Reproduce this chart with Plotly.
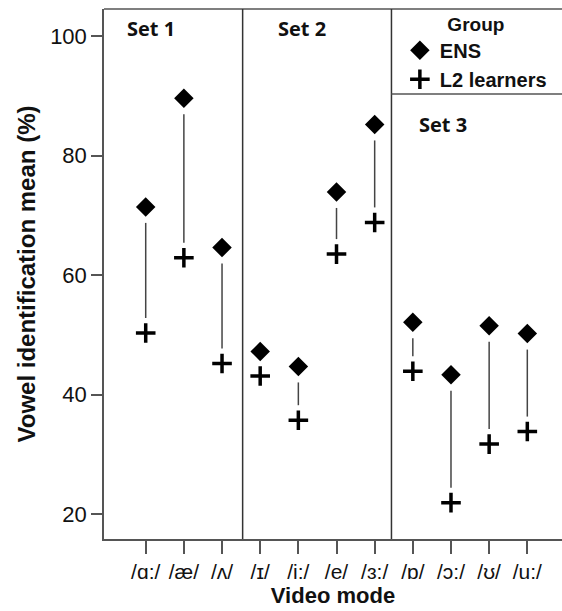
import plotly.graph_objects as go

# ---- data ----
vowels = ["/ɑ:/", "/æ/", "/ʌ/", "/ɪ/", "/i:/", "/e/", "/ɜ:/", "/ɒ/", "/ɔ:/", "/ʊ/", "/u:/"]
ens = [71.4, 89.6, 64.6, 47.2, 44.7, 73.9, 85.2, 52.1, 43.3, 51.5, 50.2]
l2 = [50.3, 62.9, 45.2, 43.1, 35.7, 63.5, 68.8, 43.9, 21.9, 31.7, 33.8]
groups = ["ENS", "L2 learners"]
set_labels = ["Set 1", "Set 2", "Set 3"]
y_ticks = [20, 40, 60, 80, 100]

# ---- layout constants ----
W, H = 562, 611
ML, MR, MT, MB = 104, 0, 9, 72
PLOT_H = H - MT - MB
XR = [-1.093, 10.909]
YR = [15.82, 104.52]
upp = (YR[1] - YR[0]) / PLOT_H  # data units per pixel

xs = list(range(len(vowels)))

# drop lines between the two group means, with gaps around markers
lx, ly = [], []
for i in xs:
    top = ens[i] - 16 * upp
    bot = l2[i] + 15 * upp
    if top > bot:
        lx += [i, i, None]
        ly += [top, bot, None]

fig = go.Figure()
fig.add_trace(go.Scatter(x=lx, y=ly, mode="lines", line=dict(color="#444444", width=1.5),
                         showlegend=False, hoverinfo="skip"))
fig.add_trace(go.Scatter(x=xs, y=ens, mode="markers", name=groups[0],
                         marker=dict(symbol="diamond", size=15, color="black", line=dict(width=0))))
fig.add_trace(go.Scatter(x=xs, y=l2, mode="markers", name=groups[1],
                         marker=dict(symbol="cross-thin", size=14, color="black",
                                     line=dict(width=3.5, color="black"))))

axis_col = "#555555"
shapes = [
    # top frame
    dict(type="line", xref="paper", yref="paper", x0=0, x1=1, y0=1, y1=1,
         line=dict(color=axis_col, width=1.5)),
    # set dividers
    dict(type="line", xref="x", yref="paper", x0=2.54, x1=2.54, y0=0, y1=1,
         line=dict(color="#333333", width=1.5)),
    dict(type="line", xref="x", yref="paper", x0=6.44, x1=6.44, y0=0, y1=1,
         line=dict(color="#333333", width=1.5)),
    # legend box bottom
    dict(type="line", xref="x", yref="y", x0=6.44, x1=XR[1], y0=90.3, y1=90.3,
         line=dict(color=axis_col, width=1.5)),
]

set_font = dict(family="Open Sans", size=20, color="#111111", weight=700)
annotations = [
    dict(text=set_labels[0], x=150.8, y=29, xref="paper", yref="paper"),
    dict(text=set_labels[1], x=301.5, y=29, xref="paper", yref="paper"),
    dict(text=set_labels[2], x=443, y=124, xref="paper", yref="paper"),
]
for a in annotations:
    a["x"] = (a["x"] - ML) / (W - ML - MR)
    a["y"] = 1 - (a["y"] - MT) / PLOT_H
    a.update(showarrow=False, font=set_font, xanchor="center", yanchor="middle")

fig.update_layout(
    width=W, height=H,
    margin=dict(l=ML, r=MR, t=MT, b=MB),
    paper_bgcolor="white", plot_bgcolor="white",
    font=dict(family="Liberation Sans, Arial, sans-serif", color="#111111"),
    shapes=shapes,
    annotations=annotations,
    legend=dict(
        title=dict(text="<b>Group</b>", side="top center",
                   font=dict(family="Liberation Sans, Arial", size=19, color="#111111")),
        font=dict(family="Liberation Sans, Arial", size=20, color="#111111", weight="bold"),
        x=0.646, xanchor="left", y=1.0 + 3 / PLOT_H, yanchor="top",
        bgcolor="rgba(0,0,0,0)", borderwidth=0, itemwidth=30,
        tracegroupgap=0,
    ),
    xaxis=dict(
        range=XR, tickmode="array", tickvals=xs, ticktext=vowels,
        showline=True, linecolor=axis_col, linewidth=1.5,
        ticks="outside", ticklen=13, tickwidth=1.5, tickcolor=axis_col,
        tickfont=dict(family="Liberation Sans, Arial", size=21, color="#111111"),
        showgrid=False, zeroline=False,
        title=dict(text="<b>Video mode</b>", standoff=6,
                   font=dict(family="Liberation Sans, Arial", size=22, color="#111111")),
    ),
    yaxis=dict(
        range=YR, tickmode="array", tickvals=y_ticks,
        showline=True, linecolor=axis_col, linewidth=1.5,
        ticks="outside", ticklen=11, tickwidth=1.5, tickcolor=axis_col,
        tickfont=dict(family="Liberation Sans, Arial", size=22, color="#111111"),
        showgrid=False, zeroline=False,
        title=dict(text="<b>Vowel identification mean (%)</b>", standoff=8,
                   font=dict(family="Liberation Sans, Arial", size=24, color="#111111")),
    ),
)

fig.write_html("out.html")
